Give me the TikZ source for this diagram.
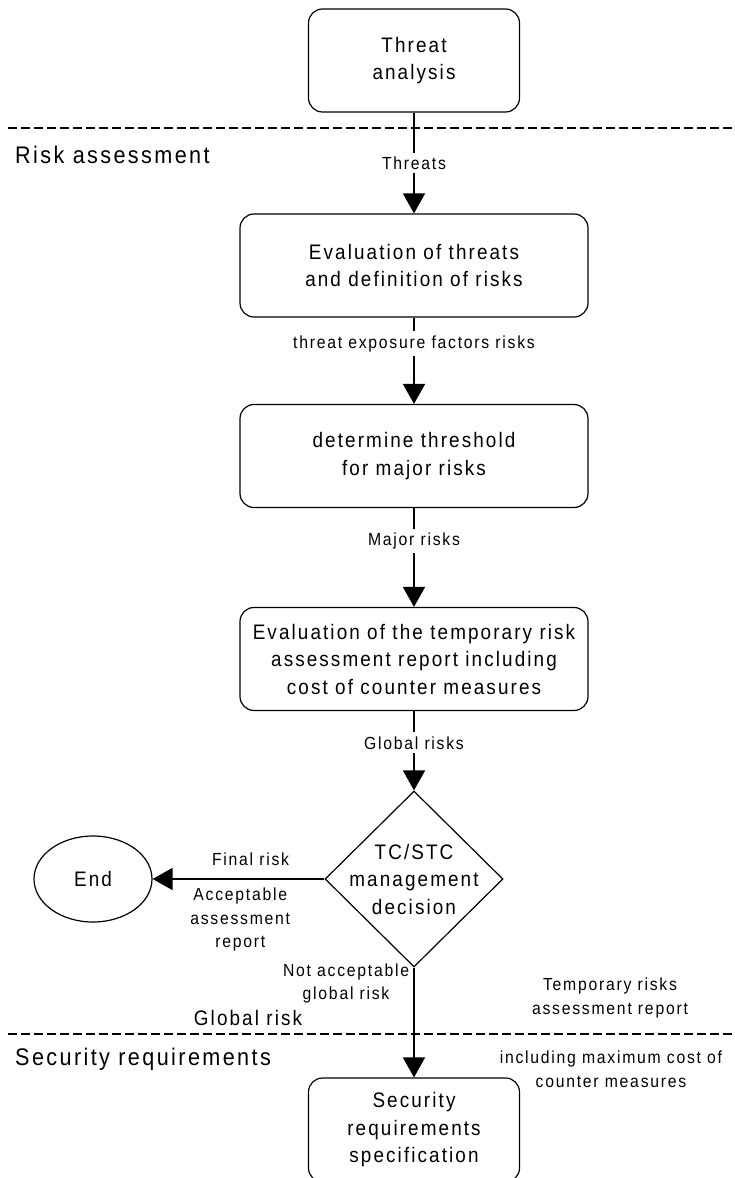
\documentclass[tikz,border=0pt]{standalone}
\usepackage{fontspec}
\setmainfont{Liberation Sans}[FakeStretch=0.9,LetterSpace=10]
\usetikzlibrary{shapes.geometric}
\usetikzlibrary{arrows.meta}
\usetikzlibrary{positioning}
\tikzset{
	action/.style={rectangle, draw, line width=1.2pt, rounded corners=14pt, align=center,
		minimum width=348pt, minimum height=103pt, inner sep=0pt,
		font=\fontsize{21}{27.5}\selectfont},
	smallaction/.style={action, minimum width=211pt},
	decision/.style={diamond, draw, line width=1.2pt, minimum width=178pt,
		minimum height=176pt, inner sep=0pt},
	final/.style={ellipse, draw, line width=1.2pt, minimum width=118pt,
		minimum height=86pt, inner sep=0pt, font=\fontsize{21}{27.5}\selectfont},
	arrow/.style={draw, -{Triangle[length=20pt,width=22pt]}, line width=1.8pt},
	flow/.style={fill=white, inner sep=4pt, align=center, font=\fontsize{17.5}{23.5}\selectfont},
	note/.style={inner sep=0pt, align=center, font=\fontsize{17.5}{23.5}\selectfont},
	bignote/.style={note, font=\fontsize{21}{27.5}\selectfont},
	lane/.style={inner sep=0pt, anchor=west, font=\fontsize{24}{29}\selectfont},
	border/.style={draw, dash pattern=on 9pt off 4pt, line width=1.3pt}
}
\begin{document}
\begin{tikzpicture}[x=1pt, y=1pt, node distance=203pt]

\useasboundingbox (0,0) rectangle (734,-1178);

\node[smallaction] (threat) at (414,-60.5) {Threat\\analysis};

\node[action, node distance=205pt, below of = threat] (evalthreats)
	{Evaluation of threats\\and definition of risks};

\node[action, node distance=190.5pt, below of = evalthreats] (threshold)
	{determine threshold\\for major risks};

\node[action, below of = threshold] (evaltemp)
	{Evaluation of the temporary risk\\assessment report including\\cost of counter measures};

\node[decision, node distance=220pt, below of = evaltemp,
	label={[align=center, font=\fontsize{21}{27.5}\selectfont]center:TC/STC\\management\\decision}] (decision) {};

\node[final, node distance=321pt, left of = decision] (end) {End};

\node[smallaction, minimum height=104pt, node distance=251pt, below of = decision] (secspec)
	{Security\\requirements\\specification};

% swimlanes
\draw[border] (8,-128) -- (734,-128);
\draw[border] (8,-1034) -- (734,-1034);
\node[lane] (riskassess) at (15,-155) {Risk assessment};
\node[lane] (secreq) at (15,-1059) {Security requirements};

\draw [arrow] (threat) -- node[flow, pos=0.5] (threatslbl) {Threats} (evalthreats);
\draw [arrow] (evalthreats) -- node[flow, pos=0.3] (exposurelbl) {threat exposure factors risks} (threshold);
\draw [arrow] (threshold) -- node[flow, pos=0.33] (majorlbl) {Major risks} (evaltemp);
\draw [arrow] (evaltemp) -- node[flow, pos=0.4] (globallbl) {Global risks} (decision);

\draw [arrow] (decision) -- node[note, pos=0.43, above=12pt] (finallbl) {Final risk}
	node[note, pos=0.49, below=8pt] (acceptlbl) {Acceptable\\assessment\\report} (end);

\draw [arrow] (decision) -- node[note, pos=0.145, left=4pt] (notacceptlbl)
	{Not acceptable\\global risk} (secspec);

\node[bignote] (globalrisk) at (248,-1018) {Global risk};
\node[note] (temprep) at (610,-998) {Temporary risks\\assessment report};
\node[note] (maxcost) at (611,-1069) {including maximum cost of\\counter measures};

\end{tikzpicture}
\end{document}
